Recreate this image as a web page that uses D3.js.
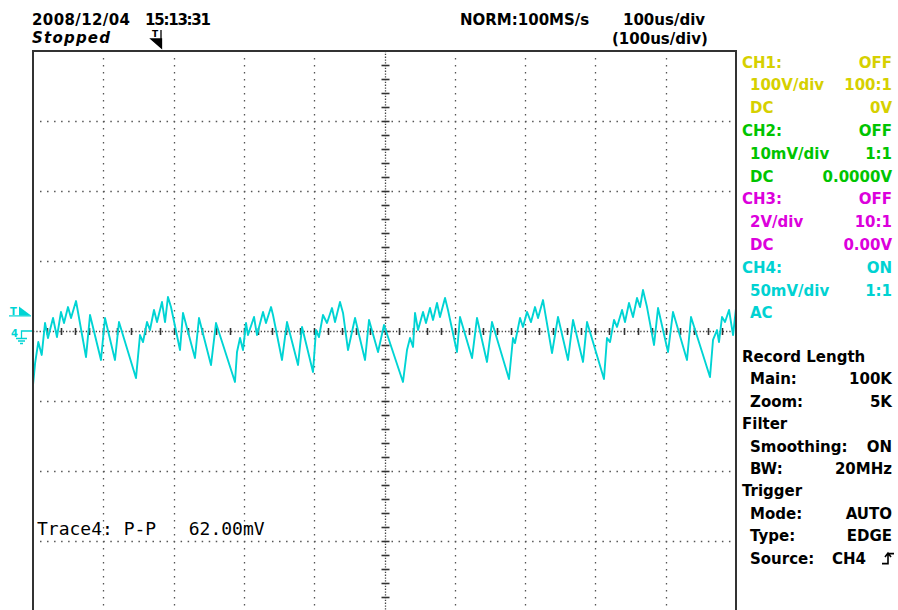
<!DOCTYPE html>
<html><head><meta charset="utf-8">
<script src="https://cdn.jsdelivr.net/npm/d3@7"></script>
<style>
html,body{margin:0;padding:0;background:#fff;}
svg{display:block;}
text{font-family:"DejaVu Sans",sans-serif;font-weight:bold;font-size:15px;white-space:pre;}
</style></head>
<body>
<svg id="c" width="898" height="610"></svg>
<script>
// ---- data (time in microseconds, voltage in millivolts, CH4) ----
const traceTimeUs = [-500,-497,-492.5,-487.6,-482.9,-478.7,-471.5,-465.9,-460.2,-455.9,-450.2,-445.9,-438.8,-424.6,-418.9,-403.3,-397.6,-383.4,-377.7,-353.5,
 -347.8,-343.5,-337.8,-333.6,-327.9,-323.6,-316.5,-312.2,-308,-303.7,-290.9,-286.6,-269.6,-263.9,-246.8,-239.7,-212.7,-209.8,-205.5,-201.3,
 -197,-194.2,-185.6,-181.4,-172.8,-168.6,-161.4,-158.6,-145.8,-138.7,-123,-117.3,-101.7,-97.4,-93.2,-87.5,-81.8,-74.7,-70.4,-63.3,
 -59,-51.9,-41.9,-27.7,-22,-9.2,-0.7,26.3,32,36.3,40.6,43.4,47.7,54.8,59,64.7,69,74.7,78.9,86.1,
 90.3,103.1,107.4,124.5,131.6,145.8,152.9,177.1,182.8,185.6,192.8,197,202.7,208.4,214.1,218.4,225.5,228.3,238.3,246.8,
 261,268.2,282.4,288.1,312.2,316.5,320.8,326.5,330.7,337.9,342.1,347.8,353.5,359.2,363.5,367.7,373.4,383.4,389.1,403.3,
 410.4,430.3,436,463,467.3,473,475.8,480.1,484.4,490.1,495.8,500];
const traceMv = [-38.6,-22.9,-7.9,-17.1,5.7,-5,9.3,-4.3,13.6,5.7,17.1,9.3,21.4,-18.6,11.4,-20.7,9.3,-20.7,6.4,-33.6,
 -2.9,-7.9,6.4,0.7,15,6.4,20.7,6.4,24.3,17.1,-13.6,12.9,-19.3,9.3,-24.3,5.7,-36.4,-15,-5,-13.6,
 5.7,-2.9,10,-2.9,13.6,5.7,17.1,11.4,-20.7,6.4,-24.3,2.9,-29.3,0.7,-4.3,11.4,5.7,16.4,6.4,20.7,
 12.9,-13.6,9.3,-20.7,7.9,-15,4.3,-36.4,-13.6,-5,-11.4,12.9,0.7,13.6,5.7,16.4,7.9,20,10,23.6,
 15,-15,10,-19.3,9.3,-22.1,6.4,-34.3,-5,-8.6,9.3,2.9,13.6,6.4,17.1,9.3,22.1,13.6,-15.7,10,
 -20.7,7.9,-22.1,6.4,-34.3,-5,-7.9,7.9,2.9,15,6.4,20,10,23.6,17.1,29.3,17.1,-10,16.4,-15,
 13.6,-20.7,10,-32.9,-6.4,0.7,-7.9,10,6.4,15,-2.9,16.4];

const headerLeft = ["2008/12/04", "15:13:31"];
const headerRight = ["NORM:100MS/s", "100us/div", "(100us/div)"];
const statusText = "Stopped";
const channelNames = ["CH1:", "CH2:", "CH3:", "CH4:"];
const channelStates = ["OFF", "OFF", "OFF", "ON"];
const channelScales = ["100V/div", "10mV/div", "2V/div", "50mV/div"];
const channelProbes = ["100:1", "1:1", "10:1", "1:1"];
const channelCoupling = ["DC", "DC", "DC", "AC"];
const channelOffsets = ["0V", "0.0000V", "0.00V", ""];
const channelColors = ["#d6d000", "#00c400", "#dc00dc", "#00d2d2"];
const infoRows = [
  ["Record Length", "", 0], ["Main:", "100K", 1], ["Zoom:", "5K", 1],
  ["Filter", "", 0], ["Smoothing:", "ON", 1], ["BW:", "20MHz", 1],
  ["Trigger", "", 0], ["Mode:", "AUTO", 1], ["Type:", "EDGE", 1], ["Source:", "", 1]
];
const measureText = "Trace4: P-P   62.00mV";

// ---- layout ----
const svg = d3.select("#c");
const L = 33, R = 736, T = 51, B = 611;
const x = d3.scaleLinear().domain([-500, 500]).range([L, R]);
const y = d3.scaleLinear().domain([-200, 200]).range([B, T]);
const cyan = "#00d4d4";

svg.append("rect").attr("width", 898).attr("height", 610).attr("fill", "#fff");

// grid
const g = svg.append("g");
const xt = d3.range(-400, 500, 100);
const yt = d3.range(-150, 200, 50);
const dx = (x(100) - x(0)) / 10;
g.selectAll(".vg").data(xt.filter(d => d !== 0)).join("line")
  .attr("x1", d => Math.round(x(d)) + 0.5).attr("x2", d => Math.round(x(d)) + 0.5)
  .attr("y1", T + 7).attr("y2", B)
  .attr("stroke", "#555").attr("stroke-width", 1.3).attr("stroke-dasharray", "1.5 " + (7 - 1.5));
g.selectAll(".hg").data(yt.filter(d => d !== 0)).join("line")
  .attr("y1", d => Math.round(y(d)) + 0.5).attr("y2", d => Math.round(y(d)) + 0.5)
  .attr("x1", L + 7).attr("x2", R)
  .attr("stroke", "#555").attr("stroke-width", 1.3).attr("stroke-dasharray", "1.5 " + (dx - 1.5));

// centre cross
const cx = Math.round(x(0)) + 0.5, cy = Math.round(y(0)) + 0.5;
g.append("line").attr("x1", cx).attr("x2", cx).attr("y1", T).attr("y2", B)
  .attr("stroke", "#444").attr("stroke-width", 1.3).attr("stroke-dasharray", "1.3 1.5");
g.append("line").attr("y1", cy).attr("y2", cy).attr("x1", L).attr("x2", R)
  .attr("stroke", "#444").attr("stroke-width", 1.3).attr("stroke-dasharray", "1.3 2");
g.selectAll(".ct").data(d3.range(-190, 200, 10)).join("line")
  .attr("x1", cx - 4).attr("x2", cx + 4)
  .attr("y1", d => Math.round(y(d)) + 0.5).attr("y2", d => Math.round(y(d)) + 0.5)
  .attr("stroke", "#333").attr("stroke-width", 1.6);
g.selectAll(".ht").data(d3.range(-480, 500, 20)).join("line")
  .attr("y1", cy - 3.5).attr("y2", cy + 3.5)
  .attr("x1", d => Math.round(x(d)) + 0.5).attr("x2", d => Math.round(x(d)) + 0.5)
  .attr("stroke", "#333").attr("stroke-width", 1.6);

// trace
svg.append("clipPath").attr("id", "clip").append("rect")
  .attr("x", L).attr("y", T).attr("width", R - L + 1.5).attr("height", B - T);
const line = d3.line().x((d, i) => x(traceTimeUs[i])).y(d => y(d));
svg.append("path").attr("d", line(traceMv)).attr("clip-path", "url(#clip)")
  .attr("fill", "none").attr("stroke", cyan).attr("stroke-width", 1.9).attr("stroke-linejoin", "round");

// frame
svg.append("path").attr("d", `M${L},${B + 2}V${T}H${R}V${B + 2}`)
  .attr("fill", "none").attr("stroke", "#333").attr("stroke-width", 2);

// left markers (trigger level & CH4 ground)
const tl = y(14);
svg.append("text").attr("x", 10).attr("y", tl + 4).text("T")
  .attr("fill", cyan).style("font-size", "10px");
svg.append("path").attr("d", `M19,${tl - 5}L31,${tl + 4}H19Z`).attr("fill", cyan);
svg.append("line").attr("x1", 9).attr("x2", 31).attr("y1", tl + 4.5).attr("y2", tl + 4.5)
  .attr("stroke", cyan).attr("stroke-width", 1.2);
const gy = y(0);
svg.append("text").attr("x", 11).attr("y", gy + 6).text("4")
  .attr("fill", cyan).style("font-size", "10px");
svg.append("path").attr("d",
  `M32,${gy}H21.5V${gy + 7}M16,${gy + 7.5}H27M18,${gy + 10}H25M20,${gy + 12.5}H23`)
  .attr("fill", "none").attr("stroke", cyan).attr("stroke-width", 1.3);

// header
svg.append("text").attr("x", 32).attr("y", 25).attr("textLength", 98).text(headerLeft[0]);
svg.append("text").attr("x", 145).attr("y", 25).attr("textLength", 66).text(headerLeft[1]);
svg.append("text").attr("x", 32).attr("y", 43).attr("textLength", 78).text(statusText).style("font-style", "italic");
svg.append("text").attr("x", 460).attr("y", 25).text(headerRight[0]);
svg.append("text").attr("x", 623).attr("y", 25).text(headerRight[1]);
svg.append("text").attr("x", 612).attr("y", 44).text(headerRight[2]);
// trigger position marker
svg.append("text").attr("x", 152).attr("y", 37).text("T").style("font-size", "9px");
svg.append("path").attr("d", "M161,30V48M151,39H161.5V48Z").attr("fill", "#000")
  .attr("stroke", "#000").attr("stroke-width", 1.3);

// channel panel
const px0 = 742, px1 = 750, pxr = 892;
channelNames.forEach((n, i) => {
  const b = 67.5 + 22.8 * 3 * i, c = channelColors[i];
  svg.append("text").attr("x", px0).attr("y", b).attr("fill", c).text(n);
  svg.append("text").attr("x", pxr).attr("y", b).attr("fill", c).attr("text-anchor", "end").text(channelStates[i]);
  svg.append("text").attr("x", px1).attr("y", b + 22.8).attr("fill", c).text(channelScales[i]);
  svg.append("text").attr("x", pxr).attr("y", b + 22.8).attr("fill", c).attr("text-anchor", "end").text(channelProbes[i]);
  svg.append("text").attr("x", px1).attr("y", b + 45.6).attr("fill", c).text(channelCoupling[i]);
  svg.append("text").attr("x", pxr).attr("y", b + 45.6).attr("fill", c).attr("text-anchor", "end").text(channelOffsets[i]);
});
infoRows.forEach((r, i) => {
  const b = 362 + 22.4 * i;
  svg.append("text").attr("x", r[2] ? px1 : px0).attr("y", b).text(r[0]);
  if (r[1]) svg.append("text").attr("x", pxr).attr("y", b).attr("text-anchor", "end").text(r[1]);
});
const sb = 362 + 22.4 * 9;
svg.append("text").attr("x", 832).attr("y", sb).text("CH4");
svg.append("path").attr("d", `M882,${sb}H888V${sb - 10}H894M885,${sb - 6.5}L888,${sb - 10.5}L891,${sb - 6.5}`)
  .attr("fill", "none").attr("stroke", "#000").attr("stroke-width", 1.6);

// measurement
svg.append("text").attr("x", 37).attr("y", 535).text(measureText)
  .style("font-family", "'DejaVu Sans Mono',monospace").style("font-weight", "normal").style("font-size", "18px");
</script>
</body></html>
